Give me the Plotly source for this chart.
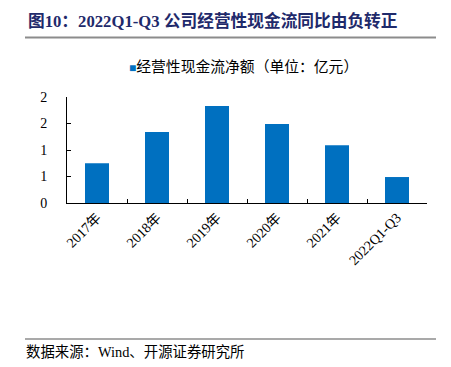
import plotly.graph_objects as go

categories = ["2017年", "2018年", "2019年", "2020年", "2021年", "2022Q1-Q3"]
values = [0.75, 1.34, 1.83, 1.49, 1.09, 0.49]
ytick_vals = [0, 0.5, 1, 1.5, 2]
ytick_text = ["0", "1", "1", "2", "2"]
series_name = "经营性现金流净额（单位：亿元）"
title_text = "图10：2022Q1-Q3 公司经营性现金流同比由负转正"
source_text = "数据来源：Wind、开源证券研究所"

FONT = "Liberation Serif, Noto Sans CJK SC"
BAR_COLOR = "#0070C0"

fig = go.Figure()
fig.add_trace(go.Bar(x=categories, y=values, name=series_name,
                     marker=dict(color=BAR_COLOR, line=dict(width=0)),
                     width=0.4, showlegend=False, hoverinfo="skip"))

W, H = 451, 367
L, R, T, B = 67, 24, 97, 164

def py(ypix):
    return ((H - B) - ypix) / (H - T - B)

def px(xpix):
    return (xpix - L) / (W - L - R)

fig.update_layout(
    width=W, height=H,
    margin=dict(l=L, r=R, t=T, b=B, pad=0),
    paper_bgcolor="white", plot_bgcolor="white",
    font=dict(family=FONT, size=13, color="#000000"),
    showlegend=False,
    xaxis=dict(type="category", showline=True, linecolor="#000", linewidth=1,
               ticks="inside", tickson="boundaries", ticklen=4, tickcolor="#000",
               tickangle=-45, showgrid=False, zeroline=False, automargin=False,
               tickfont=dict(family=FONT, size=14)),
    yaxis=dict(range=[0, 2], tickvals=ytick_vals, ticktext=ytick_text,
               showline=True, linecolor="#000", linewidth=1,
               ticks="inside", ticklen=4, tickcolor="#000",
               showgrid=False, zeroline=False, automargin=False,
               ticklabelstandoff=16,
               tickfont=dict(family=FONT, size=14)),
)

fig.add_shape(type="line", xref="paper", yref="paper", x0=px(25), x1=px(436),
              y0=py(37.5), y1=py(37.5), layer="below", line=dict(color="#8C8C8C", width=2))
fig.add_shape(type="line", xref="paper", yref="paper", x0=px(25), x1=px(436),
              y0=py(339), y1=py(339), layer="below", line=dict(color="#8C8C8C", width=1.5))

# legend (drawn as text so the marker matches the small square of the original)
fig.add_annotation(text="<span style='color:%s;font-size:12px'>■</span>%s" % (BAR_COLOR, series_name),
                   xref="paper", yref="paper", x=px(127), y=py(67),
                   xanchor="left", yanchor="middle", showarrow=False,
                   font=dict(family=FONT, size=14.8, color="#000"))

fig.add_annotation(text="<b>" + title_text + "</b>", xref="paper", yref="paper",
                   x=px(26), y=py(21),
                   xanchor="left", yanchor="middle", showarrow=False,
                   font=dict(family=FONT, size=16.7, color="#1F2A6B"))
fig.add_annotation(text=source_text, xref="paper", yref="paper",
                   x=px(24), y=py(352),
                   xanchor="left", yanchor="middle", showarrow=False,
                   font=dict(family=FONT, size=14.4, color="#000"))

fig.write_html("out.html", config={"displayModeBar": False},
               post_script="document.body.style.margin='0';")
